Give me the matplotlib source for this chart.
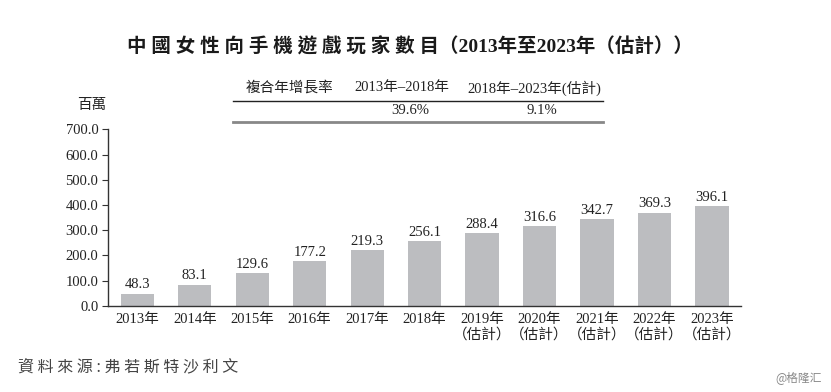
import matplotlib
matplotlib.use("Agg")
import matplotlib.pyplot as plt
from matplotlib.lines import Line2D

plt.rcParams['font.family'] = ['Liberation Serif', 'Noto Sans CJK TC']

years = ["2013年", "2014年", "2015年", "2016年", "2017年", "2018年",
         "2019年\n（估計）", "2020年\n（估計）", "2021年\n（估計）",
         "2022年\n（估計）", "2023年\n（估計）"]
players = [48.3, 83.1, 129.6, 177.2, 219.3, 256.1, 288.4, 316.6, 342.7, 369.3, 396.1]
y_ticks = [0, 100, 200, 300, 400, 500, 600, 700]

cagr_header = ["複合年增長率", "2013年–2018年", "2018年–2023年(估計)"]
cagr_values = ["", "39.6%", "9.1%"]

W, H = 831, 392


def fx(px):
    return px / W


def fy(py):
    return 1 - py / H


fig = plt.figure(figsize=(W / 100, H / 100), dpi=100)
ax = fig.add_axes([fx(108), fy(305.7), fx(740.7) - fx(108), fy(129.3) - fy(305.7)])

x = range(len(players))
bars = ax.bar(x, players, width=0.58, color="#bcbdc0", zorder=2)
for xi, v in zip(x, players):
    ax.text(xi, v + 9, f"{v:.1f}", ha="center", va="bottom", fontsize=10.5, color="#222222")

ax.set_xlim(-0.51, 10.5)
ax.set_ylim(0, 700)
ax.set_yticks(y_ticks)
ax.set_yticklabels([f"{t:.1f}" for t in y_ticks], fontsize=10.5, color="#222222")
ax.set_xticks(list(x))
ax.set_xticklabels(years, fontsize=10.5, color="#222222", linespacing=1.15)
ax.tick_params(axis="x", length=0, pad=5)
ax.tick_params(axis="y", length=4, width=0.8, pad=3, color="#333333")
for s in ["top", "right"]:
    ax.spines[s].set_visible(False)
for s in ["left", "bottom"]:
    ax.spines[s].set_linewidth(1.0)
    ax.spines[s].set_color("#333333")

# title
fig.text(fx(410), fy(47), "中 國 女 性 向 手 機 遊 戲 玩 家 數 目（2013年至2023年（估計））",
         ha="center", va="center", fontsize=14, fontweight="bold", color="#1a1a1a")

# unit label
fig.text(fx(92), fy(105), "百萬", ha="center", va="center", fontsize=10.5, color="#222222")

# CAGR table
col_x = [290, 402, 534]
for cx, h, v in zip(col_x, cagr_header, cagr_values):
    fig.text(fx(cx), fy(88), h, ha="center", va="center", fontsize=10.5, color="#222222")
    if v:
        fig.text(fx(cx + 8), fy(111), v, ha="center", va="center", fontsize=10.5, color="#222222")
fig.add_artist(Line2D([fx(233), fx(603)], [fy(100.5), fy(100.5)], color="#222222", lw=1.0,
                      transform=fig.transFigure))
fig.add_artist(Line2D([fx(233), fx(603)], [fy(122), fy(122)], color="#888888", lw=2.0,
                      transform=fig.transFigure))

# source and watermark
fig.text(fx(18), fy(367), "資 料 來 源 : 弗 若 斯 特 沙 利 文", ha="left", va="center",
         fontsize=11.5, color="#444444", family=["Noto Sans CJK TC"])
fig.text(fx(822), fy(378), "@格隆汇", ha="right", va="center", fontsize=8.5, color="#888888",
         family=["Noto Sans CJK SC"])

fig.savefig("out.png", dpi=100)
